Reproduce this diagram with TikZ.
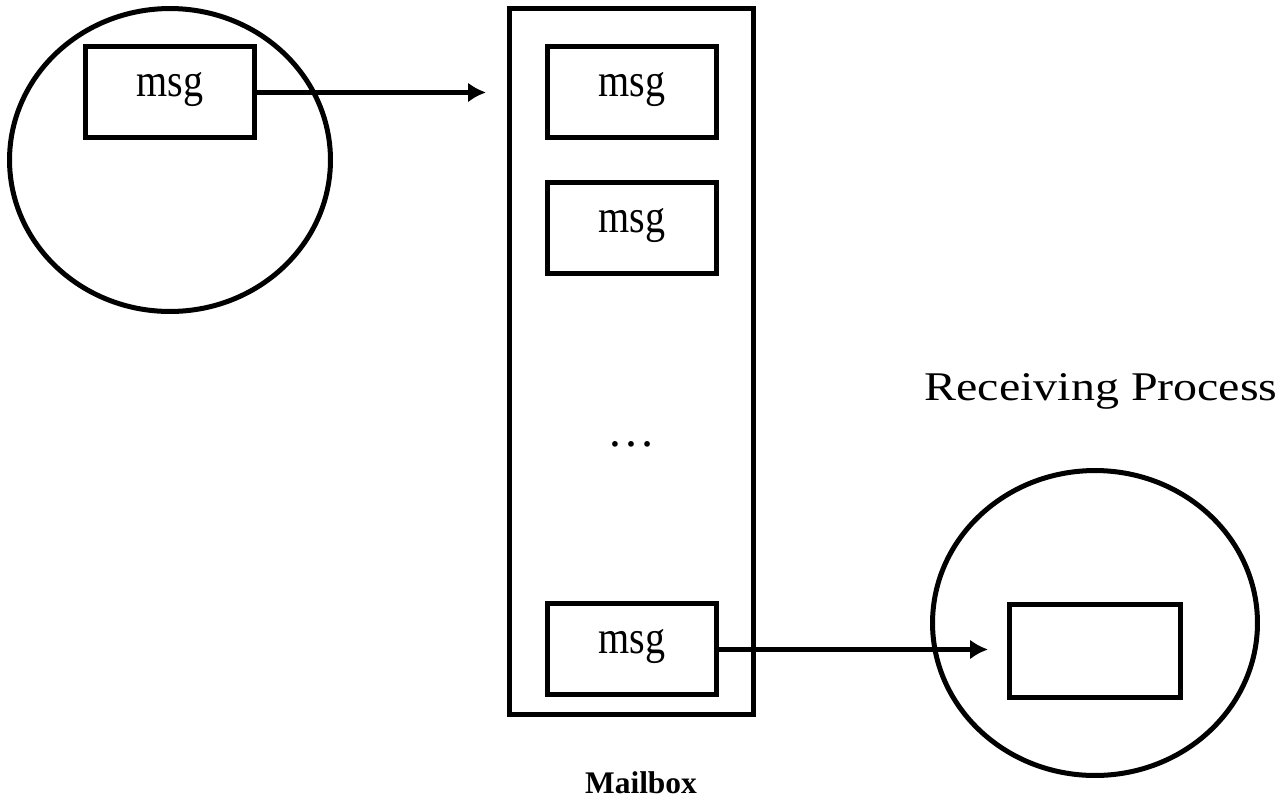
\documentclass[tikz,border=0pt]{standalone}
\usepackage{graphicx}
\usepackage{fontspec}
\setmainfont{Liberation Serif}
\usetikzlibrary{shapes.geometric,arrows.meta}

\def\s{0.02}
\def\pkt#1#2{({(#1)*\s},{-(#2)*\s})}
\def\msg{\scalebox{1}[1.17]{msg}}

\begin{document}
\begin{tikzpicture}[>={Latex[length=0.36cm,width=0.4cm]},line width=0.1cm,
  proc/.style={draw,ellipse,inner sep=0pt},
  box/.style={draw,rectangle,inner sep=0pt,minimum width=3.38cm},
  msgbox/.style={box,text height=1.0cm,text depth=0.82cm,font=\fontsize{22.8}{26}\selectfont}]
\useasboundingbox \pkt{0}{0} rectangle \pkt{1281}{798};
% sending process
\node[proc,minimum width=6.42cm,minimum height=6.06cm] (send) at \pkt{170}{160} {};
\node[msgbox] (s1) at \pkt{170}{92} {\msg};
% mailbox
\node[draw,rectangle,inner sep=0pt,minimum width=4.88cm,minimum height=14.12cm] (mbox) at \pkt{631.5}{361.5} {};
\node[msgbox] (m1) at \pkt{632}{92} {\msg};
\node[msgbox] (m2) at \pkt{632}{227.5} {\msg};
\node[font=\fontsize{27.3}{30}\selectfont] (dots) at \pkt{631}{444} {\ldots};
\node[msgbox] (m3) at \pkt{632}{649} {\msg};
\node[font=\bfseries\fontsize{17.9}{20}\selectfont,anchor=base] (mlabel) at \pkt{641}{793} {Mailbox};
% receiving process
\node[proc,minimum width=6.5cm,minimum height=6.1cm] (recv) at \pkt{1095}{623} {};
\node[box,minimum width=3.42cm,minimum height=1.86cm] (r1) at \pkt{1095}{651} {};
\node[font=\fontsize{27.3}{30}\selectfont,anchor=base] (rlabel) at \pkt{1101}{400} {\scalebox{1}[0.85]{Receiving Process}};
% arrows
\path \pkt{486}{84} coordinate (sendtip);
\path \pkt{988}{642} coordinate (recvtip);
\draw[->] (s1.mid east) -- (s1.mid east -| sendtip);
\draw[->] (m3.mid east) -- (m3.mid east -| recvtip);
\end{tikzpicture}
\end{document}
